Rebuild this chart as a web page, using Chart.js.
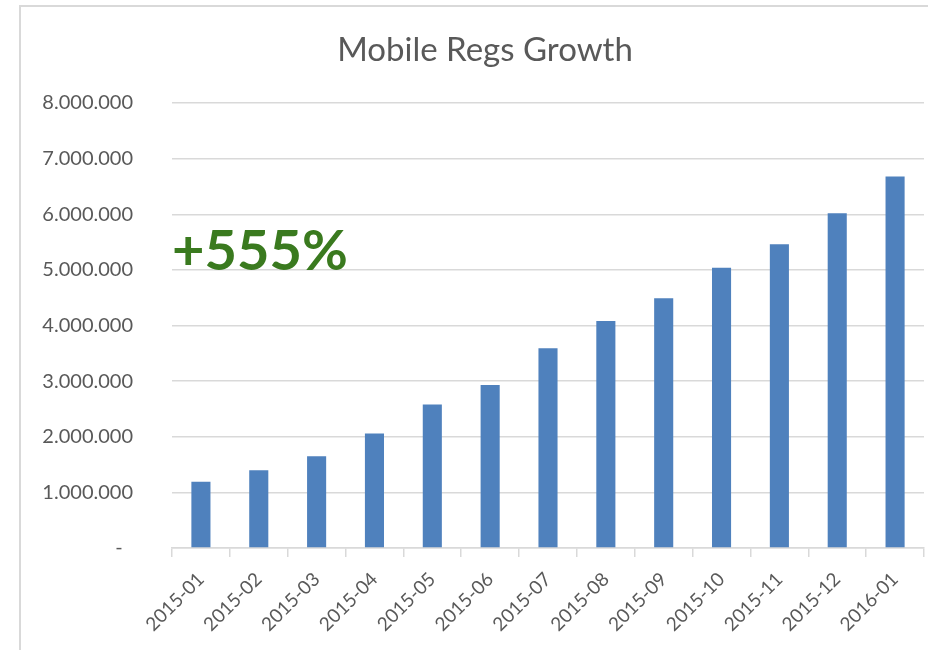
<!DOCTYPE html>
<html>
<head>
<meta charset="utf-8">
<script src="https://cdn.jsdelivr.net/npm/chart.js@4.4.0/dist/chart.umd.min.js"></script>
<style>
  html, body { margin: 0; padding: 0; background: #fff; overflow: hidden; width: 928px; height: 650px; }
  #frame {
    position: absolute; left: 19px; top: 5px; width: 1000px; height: 700px;
    border-left: 2px solid #d9d9d9; border-top: 2px solid #d9d9d9;
  }
  #wrap { position: absolute; left: 0; top: 0; width: 928px; height: 650px; }
</style>
</head>
<body>
<div id="frame"></div>
<div id="wrap"><canvas id="regsChart" width="928" height="650"></canvas></div>
<script>
// months on the x axis
const months = ['2015-01', '2015-02', '2015-03', '2015-04', '2015-05', '2015-06', '2015-07',
    '2015-08', '2015-09', '2015-10', '2015-11', '2015-12', '2016-01'];
// mobile registrations per month
const mobileRegs = [1190000, 1400000, 1650000, 2060000, 2580000, 2930000, 3590000,
    4080000, 4490000, 5040000, 5460000, 6020000, 6680000];
const chartTitle = 'Mobile Regs Growth';
const growthLabel = '+555%';

const fontFamily = 'Lato, "Open Sans", sans-serif';
const textGray = '#595959';
const gridGray = '#d9d9d9';

// title and the big green growth note, drawn on the canvas
const overlayText = {
    id: 'overlayText',
    afterDraw(chart) {
        const ctx = chart.ctx;
        const area = chart.chartArea;
        ctx.save();
        ctx.fillStyle = textGray;
        ctx.font = '33px ' + fontFamily;
        ctx.textAlign = 'center';
        ctx.textBaseline = 'middle';
        ctx.fillText(chartTitle, 485, 50);

        ctx.fillStyle = '#3a7a1f';
        ctx.font = 'bold 56px ' + fontFamily;
        ctx.textAlign = 'left';
        ctx.textBaseline = 'alphabetic';
        ctx.fillText(growthLabel, area.left, 270);
        ctx.restore();
    }
};

function dotted(value) {
    if (value === 0) return '-  ';
    return String(value).replace(/\B(?=(\d{3})+(?!\d))/g, '.');
}

new Chart(document.getElementById('regsChart').getContext('2d'), {
    type: 'bar',
    data: {
        labels: months,
        datasets: [{
            label: 'Mobile Regs',
            data: mobileRegs,
            backgroundColor: '#4f81bd',
            borderColor: '#4f81bd',
            borderWidth: 0,
            barPercentage: 1,
            categoryPercentage: 0.33
        }]
    },
    options: {
        responsive: false,
        animation: false,
        layout: {
            padding: { top: 103, right: 4, bottom: 0, left: 0 }
        },
        plugins: {
            legend: { display: false },
            title: { display: false },
            tooltip: { enabled: false }
        },
        scales: {
            y: {
                min: 0,
                max: 8000000,
                afterFit(scale) { scale.width = 172; },
                ticks: {
                    stepSize: 1000000,
                    padding: 39,
                    color: textGray,
                    font: { family: fontFamily, size: 20 },
                    callback: (v) => dotted(v)
                },
                grid: {
                    color: gridGray,
                    lineWidth: 1.5,
                    drawTicks: false
                },
                border: { display: false }
            },
            x: {
                afterFit(scale) { scale.height = 102; },
                ticks: {
                    color: textGray,
                    font: { family: fontFamily, size: 19 },
                    minRotation: 45,
                    maxRotation: 45,
                    padding: 11
                },
                grid: {
                    offset: true,
                    drawOnChartArea: false,
                    drawTicks: true,
                    tickLength: 9,
                    color: gridGray,
                    lineWidth: 1.5
                },
                border: { display: true, color: gridGray, width: 1.5 }
            }
        }
    },
    plugins: [overlayText]
});
</script>
</body>
</html>
